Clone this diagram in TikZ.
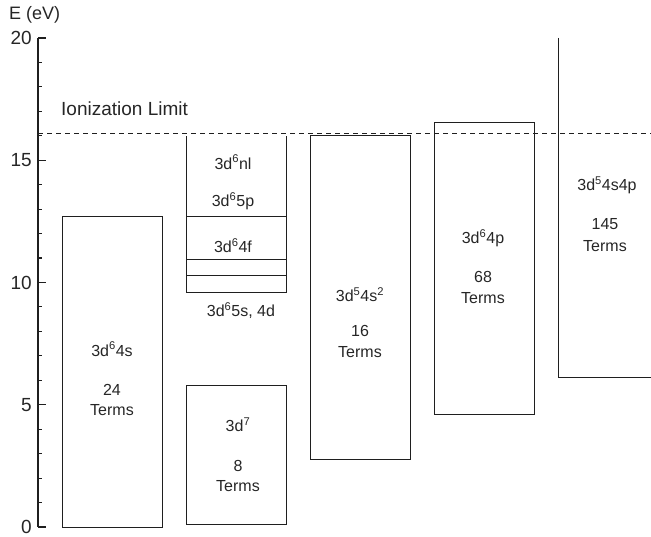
\documentclass[tikz,border=0pt]{standalone}
\usepackage{fontspec}
\setmainfont{Liberation Sans}
\begin{document}
\begin{tikzpicture}[x=1pt, y=24.45pt,
  line/.style={draw=black!88, line width=0.9pt},
  axisline/.style={draw=black!88, line width=1.1pt},
  lbl/.style={text=black!85, font=\fontsize{16}{18}\selectfont, inner sep=0pt, anchor=base},
  ticklbl/.style={text=black!85, font=\fontsize{19}{21}\selectfont, inner sep=0pt, anchor=east},
  limit/.style={draw=black!88, line width=0.8pt, dash pattern=on 5pt off 4pt}]
\useasboundingbox (0,-0.409) rectangle (651,21.554);

% energy axis with ticks every 1 eV
\draw[axisline] (38,0) -- (38,20);
\foreach \e in {0,1,...,20}{
  \draw[axisline] (38,\e) -- (42,\e);
}
\foreach \e in {0,5,10,15,20}{
  \draw[axisline] (38,\e) -- (46,\e);
  \node[ticklbl] (t\e) at (32,\e) {\e};
}
\node[text=black!85, font=\fontsize{18}{20}\selectfont, inner sep=0pt, anchor=base west] (elabel) at (9,20.74) {E (eV)};

% ionization limit
\draw[limit] (38,16.11) -- (651,16.11);
\node[text=black!85, font=\fontsize{19}{21}\selectfont, inner sep=0pt, anchor=base west] (ionlim) at (61,16.82) {Ionization Limit};

% 3d6 4s
\draw[line] (62,0) rectangle (162,12.72);
\node[lbl] (a1) at (112,6.99) {3d\textsuperscript{6}4s};
\node[lbl] (a2) at (112,5.36) {24};
\node[lbl] (a3) at (112,4.55) {Terms};

% 3d6 nl series (open at the top)
\draw[line] (186,15.99) -- (186,9.61) -- (286,9.61) -- (286,15.99);
\draw[line] (186,12.72) -- (286,12.72);
\draw[line] (186,10.96) -- (286,10.96);
\draw[line] (186,10.27) -- (286,10.27);
\node[lbl] (b1) at (233,14.64) {3d\textsuperscript{6}nl};
\node[lbl] (b2) at (233,13.09) {3d\textsuperscript{6}5p};
\node[lbl] (b3) at (233,11.21) {3d\textsuperscript{6}4f};
\node[lbl] (b4) at (241,8.59) {3d\textsuperscript{6}5s, 4d};

% 3d7
\draw[line] (186,0.12) rectangle (286,5.77);
\node[lbl] (c1) at (238,3.89) {3d\textsuperscript{7}};
\node[lbl] (c2) at (238,2.25) {8};
\node[lbl] (c3) at (238,1.44) {Terms};

% 3d5 4s2
\draw[line] (310,2.78) rectangle (410,16.03);
\node[lbl] (d1) at (360,9.21) {3d\textsuperscript{5}4s\textsuperscript{2}};
\node[lbl] (d2) at (360,7.78) {16};
\node[lbl] (d3) at (360,6.92) {Terms};

% 3d6 4p
\draw[line] (434,4.62) rectangle (534,16.56);
\node[lbl] (e1) at (483,11.58) {3d\textsuperscript{6}4p};
\node[lbl] (e2) at (483,9.98) {68};
\node[lbl] (e3) at (483,9.13) {Terms};

% 3d5 4s4p (extends beyond the frame)
\draw[line] (558,20) -- (558,6.13) -- (651,6.13);
\node[lbl] (f1) at (607,13.75) {3d\textsuperscript{5}4s4p};
\node[lbl] (f2) at (605,12.15) {145};
\node[lbl] (f3) at (605,11.25) {Terms};
\end{tikzpicture}
\end{document}
